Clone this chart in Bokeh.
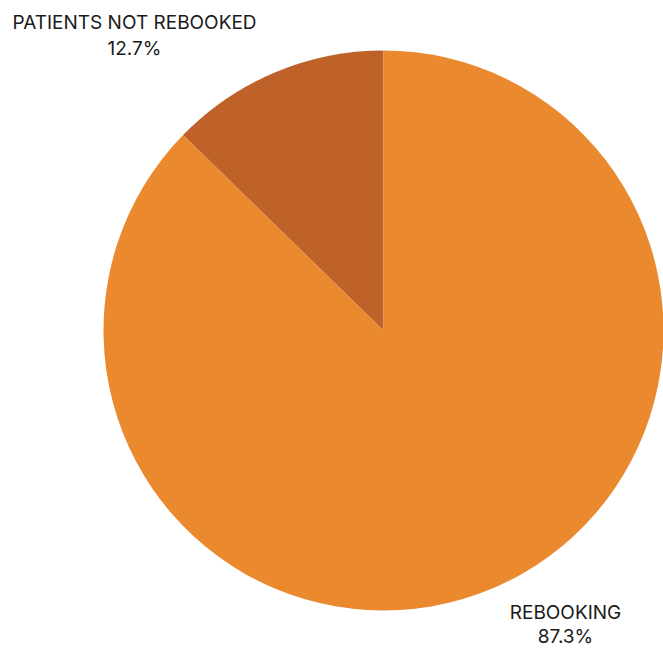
import math
from bokeh.plotting import figure
from bokeh.models import Range1d, ColumnDataSource
from bokeh.core.properties import value
from bokeh.embed import file_html
from bokeh.resources import INLINE

categories = ["PATIENTS NOT REBOOKED", "REBOOKING"]
shares = [12.7, 87.3]
colors = ["#BE6229", "#EA892E"]

W, H = 663, 648
p = figure(width=W, height=H, output_backend="svg", toolbar_location=None,
           x_range=Range1d(0, W), y_range=Range1d(-H, 0),
           min_border=0)
p.axis.visible = False
p.grid.visible = False
p.outline_line_color = None
p.background_fill_color = "white"

cx, cy, r = 383, -330, 280
total = sum(shares)
starts, ends = [], []
acc = 0.0
for s in shares:
    a0 = math.pi / 2 + acc / total * 2 * math.pi
    acc += s
    a1 = math.pi / 2 + acc / total * 2 * math.pi
    starts.append(a0)
    ends.append(a1)

src = ColumnDataSource(dict(start=starts, end=ends, color=colors,
                            x=[cx] * 2, y=[cy] * 2))
p.wedge(x="x", y="y", radius=r, start_angle="start", end_angle="end",
        fill_color="color", line_color=None, source=src)

lab_x = [134, 565]
lab_y = [-22, -612]
p.text(x=lab_x, y=lab_y, text=categories, text_font=value("Inter"),
       text_font_size="19px", text_align="center", text_baseline="middle",
       text_color="#1a1a1a")
p.text(x=lab_x, y=[lab_y[0] - 26, lab_y[1] - 24], text=[f"{v}%" for v in shares],
       text_font=value("Inter"), text_font_size="19px",
       text_align="center", text_baseline="middle", text_color="#1a1a1a")

open("out.html", "w").write(file_html(p, INLINE))
